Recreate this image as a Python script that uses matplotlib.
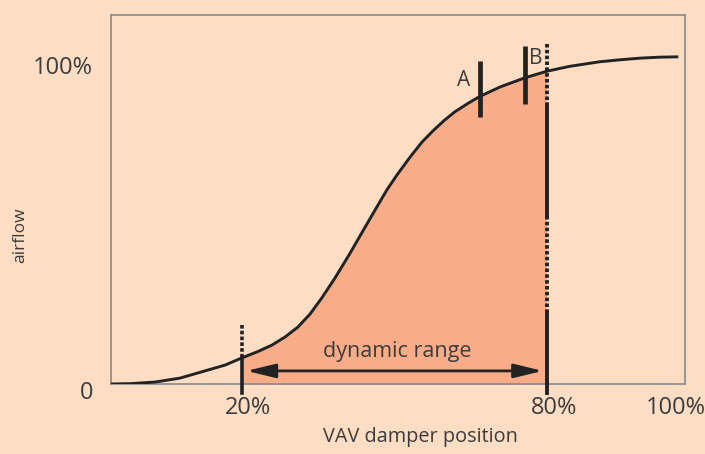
import matplotlib
matplotlib.use("Agg")
import matplotlib.pyplot as plt
import matplotlib.transforms as mtransforms
import numpy as np

# airflow curve (damper position %, airflow %)
damper_pos = np.array([-5.8, -2.0, 2.9, 7.8, 12.7, 16.7, 20.0, 23.1, 25.9, 28.5, 31.0,
                       33.4, 35.7, 38.3, 41.2, 43.8, 46.2, 48.5, 50.5, 53.1, 55.4,
                       57.6, 59.9, 61.9, 64.5, 66.8, 70.8, 75.7, 80.0, 84.5, 90.4,
                       94.4, 98.3, 102.2, 105.6])
airflow = np.array([0.0, 0.1, 0.6, 1.8, 4.0, 5.8, 8.0, 9.9, 11.9, 14.4, 17.4,
                    21.4, 26.3, 32.4, 39.8, 46.8, 53.2, 59.3, 63.9, 69.4, 73.9,
                    77.4, 80.7, 83.2, 85.8, 87.9, 90.8, 93.6, 95.6, 97.1, 98.5,
                    99.1, 99.6, 99.9, 100.0])

range_lo, range_hi = 20, 80          # dynamic range limits
point_names = ["A", "B"]
point_pos = [66.8, 75.7]
point_span = [(81.7, 98.8), (85.6, 103.4)]

xtick_vals = [20, 80, 100]
xtick_labels = ["20%", "80%", "100%"]
ytick_vals = [0, 100]
ytick_labels = ["0", "100%"]

bg = "#FDDDC4"
fill_col = "#F8AC87"
ink = "#222222"
txt = "#3c3c3c"

plt.rcParams["font.family"] = ["Open Sans", "DejaVu Sans"]

fig = plt.figure(figsize=(7.05, 4.54), dpi=100, facecolor=bg)
ax = fig.add_axes([0.1574, 0.1542, 0.8142, 0.8128])
ax.set_facecolor(bg)
ax.set_xlim(-5.8, 107.2)
ax.set_ylim(0, 112.8)

# shaded dynamic range under the curve
mask = (damper_pos >= range_lo) & (damper_pos <= range_hi)
ax.fill_between(damper_pos[mask], 0, airflow[mask], color=fill_col, lw=0, zorder=1)

ax.plot(damper_pos, airflow, color=ink, lw=2.1, zorder=3, solid_joinstyle="round")

# 20% limit: dotted above the curve, solid below
y20 = airflow[damper_pos == range_lo][0]
ax.plot([range_lo, range_lo], [18.0, y20], color=ink, lw=2.6, ls=(0, (1.0, 0.6)), zorder=4)
ax.plot([range_lo, range_lo], [y20, -2.8], color=ink, lw=2.6, zorder=4, clip_on=False)

# 80% limit
ax.plot([range_hi, range_hi], [104.0, 84.7], color=ink, lw=2.8, ls=(0, (0.9, 0.6)), zorder=4, clip_on=False)
ax.plot([range_hi, range_hi], [84.7, 51.4], color=ink, lw=2.8, zorder=4)
ax.plot([range_hi, range_hi], [51.4, 22.0], color=ink, lw=2.8, ls=(0, (0.9, 0.6)), zorder=4)
ax.plot([range_hi, range_hi], [22.0, -2.8], color=ink, lw=2.8, zorder=4, clip_on=False)

# operating points A and B
for name, px, (y0, y1) in zip(point_names, point_pos, point_span):
    ax.plot([px, px], [y0, y1], color=ink, lw=3.4, zorder=5, solid_capstyle="butt")
ax.text(point_pos[0] - 3.2, 92.8, point_names[0], fontsize=15, color=txt, ha="center", va="center")
ax.text(point_pos[1] + 2.2, 99.6, point_names[1], fontsize=15, color=txt, ha="center", va="center")

# dynamic range arrow
ax.annotate("", xy=(20.9, 4.0), xytext=(79.2, 4.0),
            arrowprops=dict(arrowstyle="<|-|>,head_length=0.7,head_width=0.17", color=ink, lw=2.0,
                            mutation_scale=25, shrinkA=0, shrinkB=0), zorder=6)
ax.text(50.5, 9.8, "dynamic range", fontsize=15.5, color=txt, ha="center", va="center")

# axes styling
for s in ax.spines.values():
    s.set_color("#8e8e8e")
    s.set_linewidth(1.3)
ax.set_xticks(xtick_vals)
ax.set_xticklabels(xtick_labels)
ax.set_yticks(ytick_vals)
ax.set_yticklabels(ytick_labels)
ax.tick_params(axis="both", length=0, labelsize=17, labelcolor=txt)
ax.tick_params(axis="x", pad=9)
ax.tick_params(axis="y", pad=13)

# nudge labels the way the original drawing places them
shifts_x = [6, 7, 27]
for lab, dx in zip(ax.get_xticklabels(), shifts_x):
    lab.set_transform(lab.get_transform() + mtransforms.ScaledTranslation(dx / 100, 0, fig.dpi_scale_trans))
shifts_y = [-6, -8]
for lab, dy in zip(ax.get_yticklabels(), shifts_y):
    lab.set_transform(lab.get_transform() + mtransforms.ScaledTranslation(0, dy / 100, fig.dpi_scale_trans))

fig.text(420 / 705, 1 - 437 / 454, "VAV damper position", fontsize=14.3, color=txt, ha="center", va="center")
fig.text(20 / 705, 1 - 235 / 454, "airflow", fontsize=12.5, color=txt, ha="center", va="center", rotation=90)

fig.savefig("out.png", dpi=100, facecolor=bg)
